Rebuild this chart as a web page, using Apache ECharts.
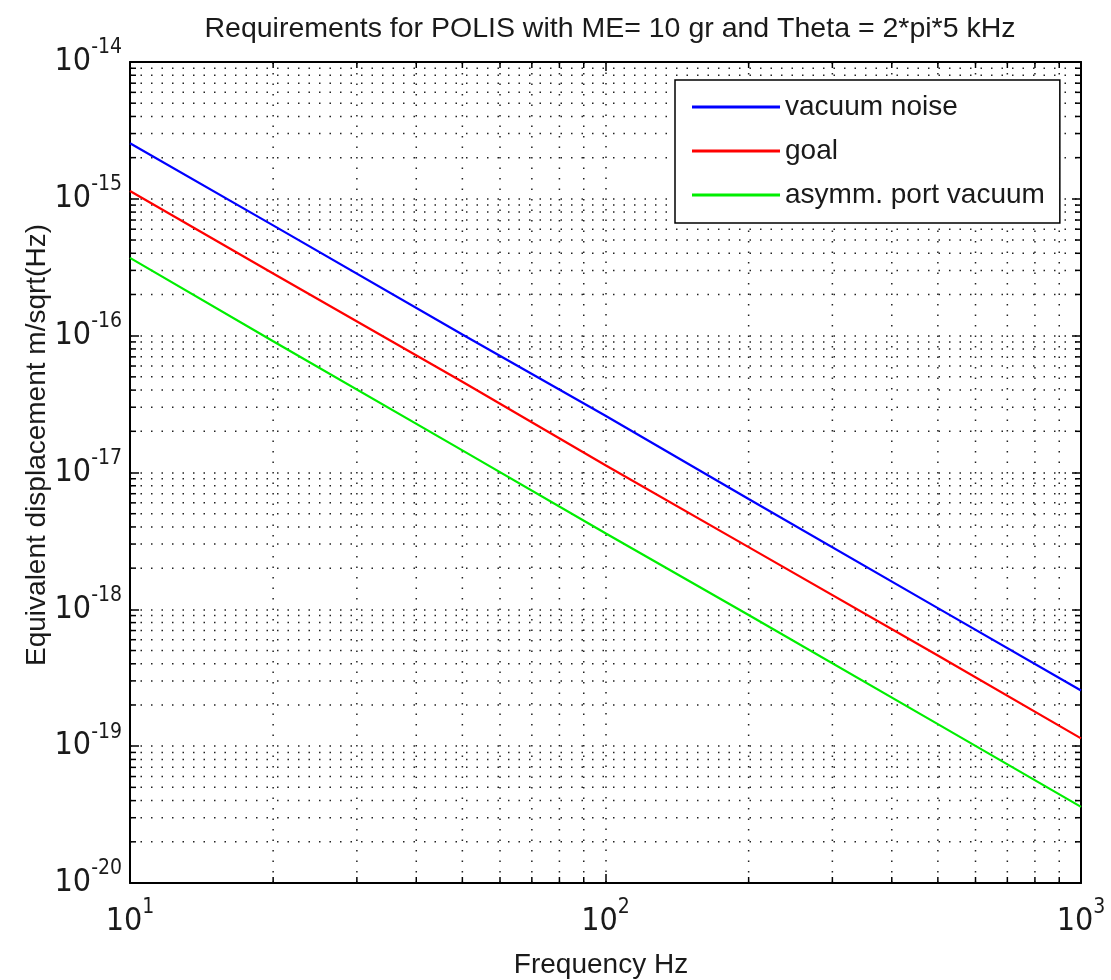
<!DOCTYPE html>
<html>
<head>
<meta charset="utf-8">
<script src="https://cdn.jsdelivr.net/npm/echarts@6/dist/echarts.min.js"></script>
<style>
html,body{margin:0;padding:0;background:#fff;}
#chart{width:1111px;height:980px;}
</style>
</head>
<body>
<div id="chart"></div>
<script>
// ---- data ----
const titleText = 'Requirements for POLIS with ME= 10 gr and Theta = 2*pi*5 kHz';
const xName = 'Frequency Hz';
const yName = 'Equivalent displacement m/sqrt(Hz)';
const seriesNames = ['vacuum noise', 'goal', 'asymm. port vacuum'];
const seriesColors = ['#0000ff', '#ff0000', '#00ee00'];
const freq = [10, 20, 50, 100, 200, 500, 1000];
const vacuumNoise = [2.55e-15, 6.4e-16, 1.02e-16, 2.6e-17, 6.4e-18, 1.02e-18, 2.55e-19];
const goal = [1.14e-15, 2.85e-16, 4.6e-17, 1.13e-17, 2.85e-18, 4.6e-19, 1.14e-19];
const asymmPort = [3.7e-16, 9.1e-17, 1.45e-17, 3.6e-18, 9.1e-19, 1.45e-19, 3.6e-20];
const xRange = [10, 1000];
const yRange = [1e-20, 1e-14];
const xDecades = [10, 100];
const yDecades = [1e-20, 1e-19, 1e-18, 1e-17, 1e-16, 1e-15];
const minorMultipliers = [2, 3, 4, 5, 6, 7, 8, 9];

const xMinor = [];
xDecades.forEach(d => minorMultipliers.forEach(m => xMinor.push(d * m)));
const yMinor = [];
yDecades.forEach(d => minorMultipliers.forEach(m => yMinor.push(d * m)));

const tickFont = "'Liberation Sans Narrow', 'DejaVu Sans Condensed', 'Liberation Sans', Arial, sans-serif";
const textFont = "'Liberation Sans', Arial, sans-serif";
const dotDash = [1.5, 9];
const dotColor = '#222';

function expLabel(v) {
  const e = Math.round(Math.log10(v));
  return '{b|10}{s|' + e + '}';
}
const richLabel = {
  b: { fontSize: 32, lineHeight: 49, verticalAlign: 'middle', fontFamily: tickFont, color: '#1a1a1a' },
  s: { fontSize: 21, lineHeight: 21, verticalAlign: 'top', fontFamily: tickFont, color: '#1a1a1a' }
};

const chart = echarts.init(document.getElementById('chart'), null, { renderer: 'canvas' });

const axisLineStyle = { show: true, lineStyle: { color: '#000', width: 2 } };

function minorRender(isVertical) {
  return function (params, api) {
    const v = api.value(isVertical ? 0 : 1);
    let a, b;
    if (isVertical) {
      a = api.coord([v, yRange[0]]);
      b = api.coord([v, yRange[1]]);
      return {
        type: 'group',
        children: [
          { type: 'line', shape: { x1: a[0], y1: a[1], x2: b[0], y2: b[1] },
            style: { stroke: dotColor, lineWidth: 1.5, lineDash: dotDash } },
          { type: 'line', shape: { x1: a[0], y1: a[1], x2: a[0], y2: a[1] - 6 },
            style: { stroke: '#000', lineWidth: 1.5 } },
          { type: 'line', shape: { x1: b[0], y1: b[1], x2: b[0], y2: b[1] + 6 },
            style: { stroke: '#000', lineWidth: 1.5 } }
        ]
      };
    } else {
      a = api.coord([xRange[0], v]);
      b = api.coord([xRange[1], v]);
      return {
        type: 'group',
        children: [
          { type: 'line', shape: { x1: a[0], y1: a[1], x2: b[0], y2: b[1] },
            style: { stroke: dotColor, lineWidth: 1.5, lineDash: dotDash } },
          { type: 'line', shape: { x1: a[0], y1: a[1], x2: a[0] + 6, y2: a[1] },
            style: { stroke: '#000', lineWidth: 1.5 } },
          { type: 'line', shape: { x1: b[0], y1: b[1], x2: b[0] - 6, y2: b[1] },
            style: { stroke: '#000', lineWidth: 1.5 } }
        ]
      };
    }
  };
}

const lineData = [vacuumNoise, goal, asymmPort];

const option = {
  backgroundColor: '#fff',
  animation: false,
  title: {
    text: titleText,
    left: 605,
    top: 10,
    textAlign: 'center',
    textStyle: { fontSize: 28.5, fontWeight: 'normal', color: '#1a1a1a', fontFamily: textFont }
  },
  legend: {
    orient: 'vertical',
    left: 675,
    top: 80,
    icon: 'rect',
    itemWidth: 88,
    itemHeight: 3,
    itemGap: 16,
    itemTextGap: 8,
    padding: [13, 15, 14, 17],
    backgroundColor: '#fff',
    borderColor: '#000',
    borderWidth: 1.5,
    borderRadius: 0,
    data: seriesNames,
    textStyle: { fontSize: 28, lineHeight: 28, color: '#1a1a1a', fontFamily: textFont }
  },
  grid: { left: 130, right: 30, top: 62, bottom: 97, containLabel: false },
  xAxis: [
    {
      type: 'log', logBase: 10, min: xRange[0], max: xRange[1], position: 'bottom',
      axisLine: axisLineStyle,
      axisTick: { show: true, inside: true, length: 9, lineStyle: { color: '#000', width: 1.5 } },
      axisLabel: { formatter: expLabel, rich: richLabel, margin: 14, showMinLabel: true, showMaxLabel: true },
      splitLine: { show: true, lineStyle: { color: dotColor, width: 1.5, type: dotDash } },
      minorTick: { show: false }
    },
    {
      type: 'log', logBase: 10, min: xRange[0], max: xRange[1], position: 'top',
      axisLine: axisLineStyle,
      axisTick: { show: true, inside: true, length: 9, lineStyle: { color: '#000', width: 1.5 } },
      axisLabel: { show: false },
      splitLine: { show: false }
    }
  ],
  yAxis: [
    {
      type: 'log', logBase: 10, min: yRange[0], max: yRange[1], position: 'left',
      axisLine: axisLineStyle,
      axisTick: { show: true, inside: true, length: 9, lineStyle: { color: '#000', width: 1.5 } },
      axisLabel: { formatter: expLabel, rich: richLabel, margin: 8, showMinLabel: true, showMaxLabel: true },
      splitLine: { show: true, lineStyle: { color: dotColor, width: 1.5, type: dotDash } }
    },
    {
      type: 'log', logBase: 10, min: yRange[0], max: yRange[1], position: 'right',
      axisLine: axisLineStyle,
      axisTick: { show: true, inside: true, length: 9, lineStyle: { color: '#000', width: 1.5 } },
      axisLabel: { show: false },
      splitLine: { show: false }
    }
  ],
  graphic: [
    {
      type: 'text', x: 601, y: 965,
      style: { text: xName, font: '28px ' + textFont, fill: '#1a1a1a', textAlign: 'center', textVerticalAlign: 'middle' }
    },
    {
      type: 'text', x: 37, y: 445, rotation: Math.PI / 2,
      style: { text: yName, font: '28px ' + textFont, fill: '#1a1a1a', textAlign: 'center', textVerticalAlign: 'middle' }
    }
  ],
  series: [
    {
      type: 'custom', name: 'xminor', xAxisIndex: 0, yAxisIndex: 0, silent: true, z: 1,
      renderItem: minorRender(true),
      data: xMinor.map(v => [v, yRange[0]])
    },
    {
      type: 'custom', name: 'yminor', xAxisIndex: 0, yAxisIndex: 0, silent: true, z: 1,
      renderItem: minorRender(false),
      data: yMinor.map(v => [xRange[0], v])
    }
  ].concat(seriesNames.map((n, i) => ({
    type: 'line', name: n, xAxisIndex: 0, yAxisIndex: 0, z: 5,
    symbol: 'none', showSymbol: false,
    color: seriesColors[i],
    lineStyle: { color: seriesColors[i], width: 2.2 },
    data: freq.map((f, k) => [f, lineData[i][k]])
  })))
};

chart.setOption(option);
</script>
</body>
</html>
